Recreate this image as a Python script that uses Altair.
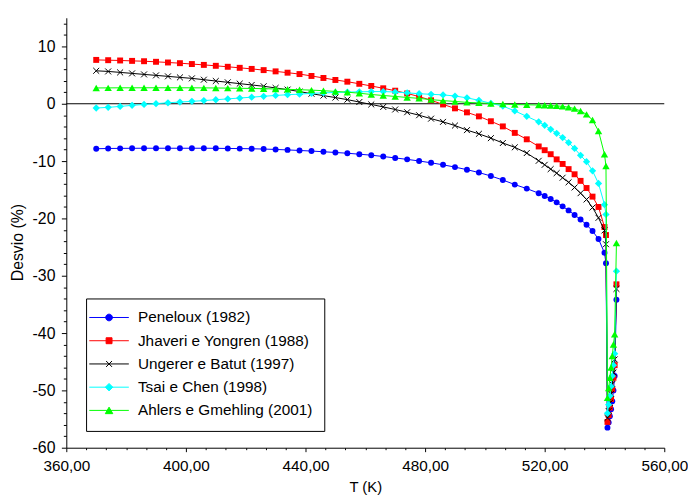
import altair as alt
import pandas as pd

FONT = "Liberation Sans"

names = ["Peneloux (1982)", "Jhaveri e Yongren (1988)", "Ungerer e Batut (1997)",
         "Tsai e Chen (1998)", "Ahlers e Gmehling (2001)"]
colors = ["#0000ff", "#ff0000", "#000000", "#00ffff", "#00ff00"]

T = [370, 374, 378, 382, 386, 390, 394, 398, 402, 406,
     410, 414, 418, 422, 426, 430, 434, 438, 442, 446,
     450, 454, 458, 462, 466, 470, 474, 478, 482, 486,
     490, 494, 498, 502, 506, 510, 514, 518,
     520, 522, 524, 526, 528, 530, 532, 534, 536, 538,
     540, 540.5,
     541.0, 541.4, 541.8, 542.2, 542.6, 543.0, 543.4, 544.0]

peneloux = [-7.85, -7.8, -7.78, -7.77, -7.76, -7.76, -7.76, -7.76, -7.76, -7.76,
            -7.77, -7.8, -7.82, -7.85, -7.9, -7.97, -8.05, -8.15, -8.25, -8.37,
            -8.5, -8.63, -8.8, -8.97, -9.2, -9.45, -9.7, -9.98, -10.3, -10.65,
            -11.05, -11.5, -12.0, -12.6, -13.3, -14.1, -14.8, -15.6,
            -16.1, -16.6, -17.2, -17.9, -18.6, -19.4, -20.2, -21.1, -22.2, -23.6,
            -26.0, -27.8,
            -56.5, -55.6, -54.5, -53.3, -51.9, -50.0, -47.5, -34.2]

jhaveri = [7.65, 7.6, 7.55, 7.48, 7.42, 7.32, 7.2, 7.08, 6.93, 6.78,
           6.62, 6.45, 6.27, 6.08, 5.87, 5.65, 5.42, 5.18, 4.85, 4.5,
           4.15, 3.85, 3.48, 3.1, 2.7, 2.28, 1.8, 1.25, 0.6, -0.12,
           -0.8, -1.5, -2.2, -3.05, -3.95, -5.08, -6.2, -7.45,
           -8.1, -8.8, -9.7, -10.5, -11.4, -12.3, -13.45, -14.7, -16.2, -18.0,
           -21.5, -22.9,
           -55.5, -54.3, -53.0, -51.5, -49.8, -47.8, -45.6, -31.5]

ungerer = [5.75, 5.64, 5.47, 5.3, 5.12, 4.95, 4.78, 4.6, 4.43, 4.2,
           3.97, 3.74, 3.51, 3.28, 3.05, 2.76, 2.47, 2.13, 1.75, 1.42,
           1.08, 0.72, 0.3, -0.12, -0.55, -1.0, -1.48, -2.0, -2.6, -3.16,
           -3.8, -4.6, -5.25, -6.0, -6.85, -7.6, -8.6, -9.95,
           -10.65, -11.4, -12.1, -12.9, -13.7, -14.6, -15.6, -16.7, -18.1, -19.9,
           -22.1, -24.5,
           -54.8, -53.6, -52.2, -50.6, -48.9, -46.9, -44.6, -32.3]

tsai = [-0.74, -0.63, -0.46, -0.28, -0.11, 0.02, 0.17, 0.3, 0.42, 0.55,
        0.7, 0.85, 1.0, 1.15, 1.3, 1.45, 1.58, 1.68, 1.82, 1.9,
        1.97, 2.03, 2.08, 2.12, 2.13, 2.05, 1.9, 1.75, 1.65, 1.55,
        1.35, 1.03, 0.6, 0.08, -0.4, -1.25, -2.2, -3.15,
        -3.75, -4.45, -5.15, -5.9, -6.77, -7.8, -9.0, -10.1, -11.7, -13.9,
        -17.6, -19.3,
        -54.0, -52.5, -51.0, -49.3, -47.5, -45.6, -43.6, -29.2]

ahlers = [2.76, 2.77, 2.78, 2.78, 2.79, 2.79, 2.79, 2.79, 2.78, 2.77,
          2.75, 2.73, 2.7, 2.67, 2.63, 2.58, 2.52, 2.45, 2.38, 2.28,
          2.15, 2.02, 1.84, 1.62, 1.44, 1.28, 1.1, 0.94, 0.72, 0.55,
          0.4, 0.24, 0.15, 0.05, -0.05, -0.14, -0.18, -0.22,
          -0.26, -0.31, -0.37, -0.45, -0.6, -0.85, -1.26, -1.85, -2.83, -4.75,
          -8.8, -10.85,
          -51.3, -49.6, -47.8, -46.0, -44.0, -42.0, -40.2, -24.3]

series_values = [peneloux, jhaveri, ungerer, tsai, ahlers]

# marker styles
shapes = ["circle", "square", "M-1,-1L1,1M-1,1L1,-1", "diamond", "triangle-up"]
filled = [True, True, False, True, True]
sizes = [36, 36, 36, 54, 56]

# legend symbols: line segment plus marker
legend_paths = [
    "M-5,0H5M0.85,0A0.85,0.85,0,1,1,-0.85,0A0.85,0.85,0,1,1,0.85,0Z",
    "M-5,0H5M-0.75,-0.75H0.75V0.75H-0.75Z",
    "M-5,0H5M-0.75,-0.75L0.75,0.75M-0.75,0.75L0.75,-0.75",
    "M-5,0H5M0,-0.95L0.95,0L0,0.95L-0.95,0Z",
    "M-5,0H5M0,-0.82L0.95,0.82H-0.95Z",
]

x_major = [360, 400, 440, 480, 520, 560]
x_ticks = [a + (b - a) * k / 6 for a, b in zip(x_major[:-1], x_major[1:]) for k in range(6)] + [560]
y_ticks = list(range(-60, 15, 2))

rows = []
for name, vals in zip(names, series_values):
    for i, (t, d) in enumerate(zip(T, vals)):
        rows.append({"Series": name, "T": t, "D": d, "idx": i})
df = pd.DataFrame(rows)

is_major_x = "abs(datum.value/40 - round(datum.value/40)) < 0.01"
X = alt.X(
    "T:Q", title="T (K)",
    scale=alt.Scale(domain=[360, 560], nice=False, zero=False),
    axis=alt.Axis(
        values=x_ticks,
        labelExpr=f"{is_major_x} ? replace(format(datum.value, '.2f'), '.', ',') : ''",
        tickSize={"condition": {"test": is_major_x, "value": 4}, "value": 2},
        labelOverlap=False, labelFlush=False, grid=False,
        domainColor="black", tickColor="black", labelColor="black", titleColor="black",
        labelFont=FONT, titleFont=FONT, labelFontSize=15.5, titleFontSize=15,
        titleFontWeight="normal", labelPadding=7, titlePadding=6,
    ),
)
Y = alt.Y(
    "D:Q", title="Desvio (%)",
    scale=alt.Scale(domain=[-60, 15], nice=False, zero=False),
    axis=alt.Axis(
        values=y_ticks,
        labelExpr="datum.value % 10 === 0 ? '' + datum.value : ''",
        tickSize={"condition": {"test": "datum.value % 10 === 0", "value": 5}, "value": 3},
        labelOverlap=False, labelFlush=False, grid=False,
        domainColor="black", tickColor="black", labelColor="black", titleColor="black",
        labelFont=FONT, titleFont=FONT, labelFontSize=16, titleFontSize=16,
        titleFontWeight="normal", labelPadding=6.5, titlePadding=7, titleY=227,
    ),
)

zero = alt.Chart(pd.DataFrame({"D": [0]})).mark_rule(color="black", strokeWidth=1).encode(y=Y)

layers = [zero]
for k, name in enumerate(names):
    sub = df[df["Series"] == name]
    base = alt.Chart(sub)
    line = base.mark_line(color=colors[k], strokeWidth=1).encode(x=X, y=Y, order="idx:Q")
    pts = base.mark_point(
        shape=shapes[k], filled=filled[k], size=sizes[k], color=colors[k],
        opacity=1, strokeWidth=1,
    ).encode(x=X, y=Y)
    layers += [line, pts]

L = alt.Legend(
    title=None, orient="none", direction="vertical", legendX=20, legendY=284,
    strokeColor="black", fillColor="white", padding=11.5, rowPadding=6.5,
    symbolSize=64, symbolOffset=4, labelOffset=21.5, symbolStrokeWidth=1,
    symbolOpacity=1, labelFont=FONT, labelFontSize=15.5, labelColor="black",
    labelLimit=400,
)
legend_layer = alt.Chart(df).mark_point(filled=True, opacity=0, strokeWidth=1).encode(
    x=X, y=Y,
    fill=alt.Fill("Series:N", scale=alt.Scale(domain=names, range=colors), legend=L, sort=names),
    stroke=alt.Stroke("Series:N", scale=alt.Scale(domain=names, range=colors), legend=L, sort=names),
    shape=alt.Shape("Series:N", scale=alt.Scale(domain=names, range=legend_paths), legend=L, sort=names),
)
layers.append(legend_layer)

chart = alt.layer(*layers).properties(
    width=605, height=435,
    autosize=alt.AutoSizeParams(type="none"),
    padding={"left": 59, "top": 7, "right": 24, "bottom": 49},
).configure_view(stroke=None)

chart.save("out.html", embed_options={"renderer": "svg", "actions": False})
